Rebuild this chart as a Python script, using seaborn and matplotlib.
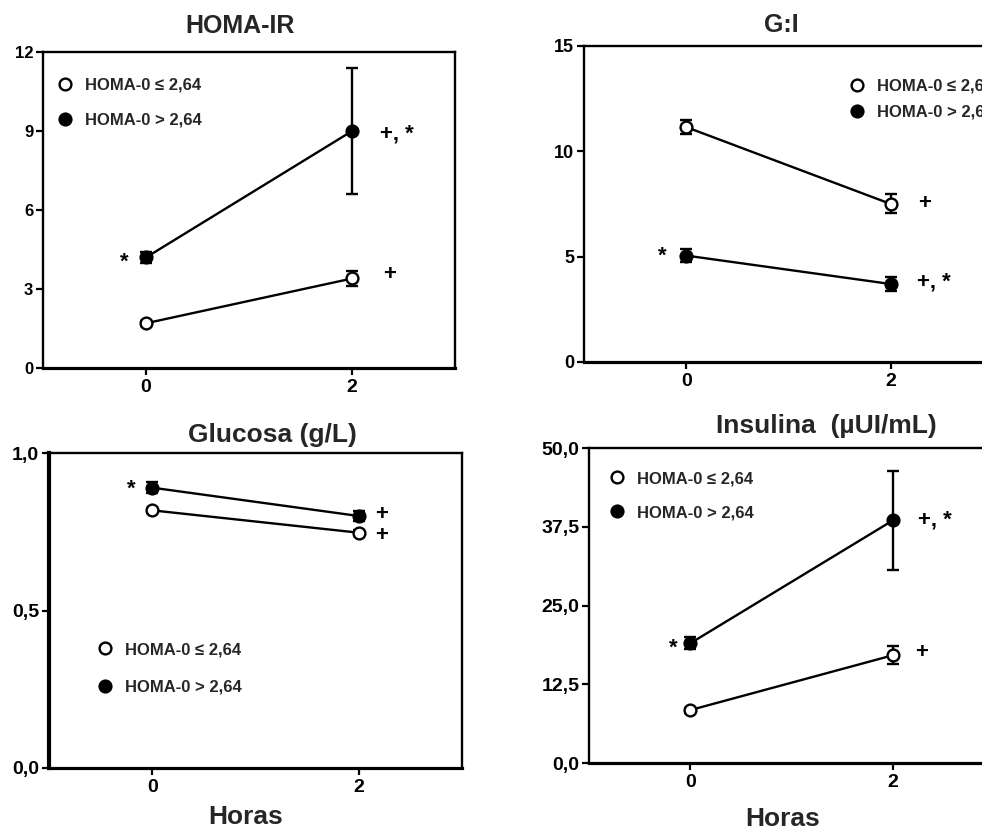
import seaborn as sns
import pandas as pd
import matplotlib.pyplot as plt
from matplotlib.lines import Line2D

horas = [0, 2]
grupos = ["HOMA-0 ≤ 2,64", "HOMA-0 > 2,64"]

homa_bajo = [1.7, 3.4]
homa_bajo_err = [0.1, 0.3]
homa_alto = [4.2, 9.0]
homa_alto_err = [0.2, 2.4]

gi_bajo = [11.15, 7.5]
gi_bajo_err = [0.35, 0.45]
gi_alto = [5.05, 3.7]
gi_alto_err = [0.3, 0.35]

glu_bajo = [0.818, 0.747]
glu_bajo_err = [0.008, 0.01]
glu_alto = [0.89, 0.80]
glu_alto_err = [0.018, 0.017]

ins_bajo = [8.4, 17.1]
ins_bajo_err = [0.4, 1.4]
ins_alto = [19.0, 38.5]
ins_alto_err = [0.95, 7.8]

sns.set_theme(style="ticks")
plt.rcParams["font.family"] = ["Liberation Sans", "DejaVu Sans"]
plt.rcParams["font.weight"] = "bold"

fig = plt.figure(figsize=(9.82, 8.30), dpi=100)


def plot_panel(ax, bajo, bajo_err, alto, alto_err, ysize):
    """Two groups, line + markers + SEM bars."""
    df = pd.DataFrame({"hora": horas * 2,
                       "valor": bajo + alto,
                       "grupo": [grupos[0]] * 2 + [grupos[1]] * 2})
    for g, fill, err in [(grupos[0], "white", bajo_err), (grupos[1], "black", alto_err)]:
        sub = df[df["grupo"] == g]
        ax.errorbar(sub["hora"], sub["valor"], yerr=err, fmt="none",
                    ecolor="black", elinewidth=1.7, capsize=4, capthick=1.7, zorder=2)
        sns.lineplot(data=sub, x="hora", y="valor", ax=ax, color="black", lw=1.7,
                     marker="o", markersize=8.5, markerfacecolor=fill,
                     markeredgecolor="black", markeredgewidth=1.7, zorder=3)
    ax.set_xlim(-1, 3)
    ax.set_xticks([0, 2])
    ax.set_xlabel("")
    ax.set_ylabel("")
    for s in ax.spines.values():
        s.set_linewidth(1.7)
        s.set_color("black")
    ax.spines["bottom"].set_linewidth(2.3)
    ax.tick_params(axis="both", direction="out", length=5, width=1.6,
                   colors="black", pad=3)
    ax.tick_params(axis="x", labelsize=14)
    ax.tick_params(axis="y", labelsize=ysize, pad=2)
    for lab in ax.get_xticklabels() + ax.get_yticklabels():
        lab.set_fontweight("bold")


def add_legend(ax, anchor, spacing):
    handles = [Line2D([], [], ls="none", marker="o", markersize=8.5, color="black",
                      markerfacecolor="white", markeredgewidth=1.7),
               Line2D([], [], ls="none", marker="o", markersize=8.5, color="black",
                      markerfacecolor="black", markeredgewidth=1.7)]
    ax.legend(handles, grupos, loc="upper left", bbox_to_anchor=anchor,
              frameon=False, borderpad=0, borderaxespad=0, handlelength=1.2,
              handletextpad=0.6, labelspacing=spacing,
              prop={"size": 12, "weight": "bold"})


def mark(ax, txt, x, y, ha="left"):
    ax.text(x, y, txt, fontsize=16, fontweight="bold", ha=ha, va="center", color="black")


# HOMA-IR
ax1 = fig.add_axes([0.0438, 0.5566, 0.4196, 0.3807])
ax1.set_ylim(0, 12)
ax1.set_yticks([0, 3, 6, 9, 12])
plot_panel(ax1, homa_bajo, homa_bajo_err, homa_alto, homa_alto_err, 12)
ax1.set_title("HOMA-IR", fontsize=18, fontweight="bold", x=0.478, pad=14)
add_legend(ax1, (0.03, 0.918), 1.2)
mark(ax1, "*", -0.21, 4.0, ha="center")
mark(ax1, "+, *", 2.27, 8.9)
mark(ax1, "+", 2.36, 3.55, ha="center")

# G:I
ax2 = fig.add_axes([0.5947, 0.5639, 0.4165, 0.3807])
ax2.set_ylim(0, 15)
ax2.set_yticks([0, 5, 10, 15])
plot_panel(ax2, gi_bajo, gi_bajo_err, gi_alto, gi_alto_err, 13)
ax2.set_title("G:I", fontsize=18, fontweight="bold", x=0.482, pad=10)
add_legend(ax2, (0.643, 0.896), 0.65)
mark(ax2, "*", -0.23, 5.0, ha="center")
mark(ax2, "+", 2.33, 7.5, ha="center")
mark(ax2, "+, *", 2.26, 3.8)

# Glucosa
ax3 = fig.add_axes([0.0499, 0.0747, 0.4206, 0.3795])
ax3.set_ylim(0, 1.0)
ax3.set_yticks([0, 0.5, 1.0])
ax3.set_yticklabels(["0,0", "0,5", "1,0"])
plot_panel(ax3, glu_bajo, glu_bajo_err, glu_alto, glu_alto_err, 14)
ax3.spines["left"].set_linewidth(3.0)
ax3.set_title("Glucosa (g/L)", fontsize=19, fontweight="bold", x=0.54, pad=8)
add_legend(ax3, (0.111, 0.40), 1.35)
mark(ax3, "*", -0.2, 0.885, ha="center")
mark(ax3, "+", 2.22, 0.805, ha="center")
mark(ax3, "+", 2.22, 0.738, ha="center")
ax3.set_xlabel("Horas", fontsize=19, fontweight="bold")
ax3.xaxis.set_label_coords(0.475, -0.117)

# Insulina
ax4 = fig.add_axes([0.5998, 0.0807, 0.4124, 0.3795])
ax4.set_ylim(0, 50)
ax4.set_yticks([0, 12.5, 25, 37.5, 50])
ax4.set_yticklabels(["0,0", "12,5", "25,0", "37,5", "50,0"])
plot_panel(ax4, ins_bajo, ins_bajo_err, ins_alto, ins_alto_err, 14)
ax4.set_title("Insulina  (µUI/mL)", fontsize=19, fontweight="bold", x=0.585, pad=11)
add_legend(ax4, (0.044, 0.927), 1.15)
mark(ax4, "*", -0.17, 18.3, ha="center")
mark(ax4, "+, *", 2.25, 38.5)
mark(ax4, "+", 2.28, 17.5, ha="center")
ax4.set_xlabel("Horas", fontsize=19, fontweight="bold")
ax4.xaxis.set_label_coords(0.479, -0.14)

fig.savefig("out.png", dpi=100)
